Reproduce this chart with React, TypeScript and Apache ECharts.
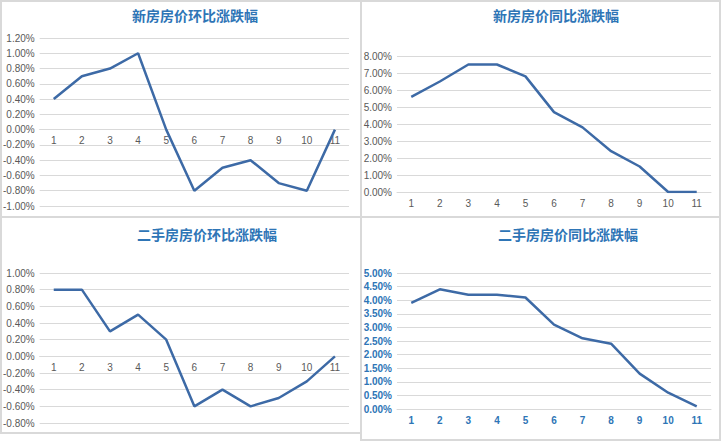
import React, { useEffect, useRef } from "react";
import * as echarts from "echarts";

const categories = ["1", "2", "3", "4", "5", "6", "7", "8", "9", "10", "11"];
const newMoM = [0.4, 0.7, 0.8, 1.0, 0.0, -0.8, -0.5, -0.4, -0.7, -0.8, 0.0];
const newYoY = [5.6, 6.5, 7.5, 7.5, 6.8, 4.7, 3.8, 2.4, 1.5, 0.0, 0.0];
const usedMoM = [0.8, 0.8, 0.3, 0.5, 0.2, -0.6, -0.4, -0.6, -0.5, -0.3, 0.0];
const usedYoY = [3.9, 4.4, 4.2, 4.2, 4.1, 3.1, 2.6, 2.4, 1.3, 0.6, 0.1];
const titles = ["新房房价环比涨跌幅", "新房房价同比涨跌幅", "二手房房价环比涨跌幅", "二手房房价同比涨跌幅"];

const LINE = "#3D6AA6";
const GRID_LINE = "#d9d9d9";
const GRAY = "#595959";
const BLUE = "#2E75B6";
const FONT = "'Liberation Sans Narrow', 'Liberation Sans', Arial, sans-serif";

export default function App() {
  const ref = useRef<HTMLDivElement>(null);
  useEffect(() => {
    if (!ref.current) return;
    const chart = echarts.init(ref.current, null, { renderer: "svg" });
    const fmt = (v: number) => v.toFixed(2) + "%";
    const grids = [
      { left: 38, top: 38, width: 311, height: 168 },
      { left: 397, top: 56, width: 314, height: 136 },
      { left: 38, top: 273, width: 311, height: 150 },
      { left: 397, top: 273, width: 314, height: 136 },
    ];
    const yCfg = [
      { min: -1, max: 1.2, interval: 0.2, color: GRAY, bold: false },
      { min: 0, max: 8, interval: 1, color: GRAY, bold: false },
      { min: -0.8, max: 1.0, interval: 0.2, color: GRAY, bold: false },
      { min: 0, max: 5, interval: 0.5, color: BLUE, bold: true },
    ];
    const datas = [newMoM, newYoY, usedMoM, usedYoY];
    const titlePos = [
      [195, 15],
      [556, 15],
      [207, 234],
      [568, 234],
    ];
    const option: any = {
      animation: false,
      backgroundColor: "#ffffff",
      grid: grids.map((g) => ({ ...g, containLabel: false })),
      xAxis: grids.map((g, i) => ({
        type: "category",
        gridIndex: i,
        data: categories,
        boundaryGap: true,
        // place the category axis on the zero line of the value axis
        offset: -(g.height * (0 - yCfg[i].min)) / (yCfg[i].max - yCfg[i].min),
        axisLine: { show: true, onZero: false, lineStyle: { color: GRID_LINE } },
        axisTick: { show: false },
        axisLabel: {
          margin: 6,
          color: yCfg[i].color,
          fontWeight: yCfg[i].bold ? "bold" : "normal",
          fontSize: 10,
          fontFamily: FONT,
        },
      })),
      yAxis: grids.map((_, i) => ({
        type: "value",
        gridIndex: i,
        min: yCfg[i].min,
        max: yCfg[i].max,
        interval: yCfg[i].interval,
        axisLine: { show: false },
        axisTick: { show: false },
        splitLine: { show: true, lineStyle: { color: GRID_LINE, width: 1 } },
        axisLabel: {
          margin: 5,
          color: yCfg[i].color,
          fontWeight: yCfg[i].bold ? "bold" : "normal",
          fontSize: 10,
          fontFamily: FONT,
          formatter: fmt,
        },
      })),
      series: datas.map((d, i) => ({
        type: "line",
        xAxisIndex: i,
        yAxisIndex: i,
        data: d,
        symbol: "none",
        lineStyle: { color: LINE, width: 2.5 },
      })),
      graphic: [
        { type: "rect", shape: { x: 1, y: 1, width: 360, height: 216 }, style: { fill: "none", stroke: GRID_LINE, lineWidth: 2 }, silent: true },
        { type: "rect", shape: { x: 361, y: 1, width: 359, height: 216 }, style: { fill: "none", stroke: GRID_LINE, lineWidth: 2 }, silent: true },
        { type: "rect", shape: { x: 1, y: 217, width: 360, height: 216 }, style: { fill: "none", stroke: GRID_LINE, lineWidth: 2 }, silent: true },
        { type: "rect", shape: { x: 361, y: 217, width: 359, height: 223 }, style: { fill: "none", stroke: GRID_LINE, lineWidth: 2 }, silent: true },
        ...titles.map((t, i) => ({
          type: "text",
          x: titlePos[i][0],
          y: titlePos[i][1],
          silent: true,
          style: {
            text: t,
            align: "center",
            verticalAlign: "middle",
            fill: BLUE,
            fontSize: 14,
            fontWeight: "bold",
            fontFamily: "'Noto Sans CJK SC', sans-serif",
          },
        })),
      ],
    };
    chart.setOption(option);
    return () => chart.dispose();
  }, []);
  return (
    <div
      ref={ref}
      style={{ position: "fixed", left: 0, top: 0, width: 722, height: 442, background: "#fff" }}
    />
  );
}
